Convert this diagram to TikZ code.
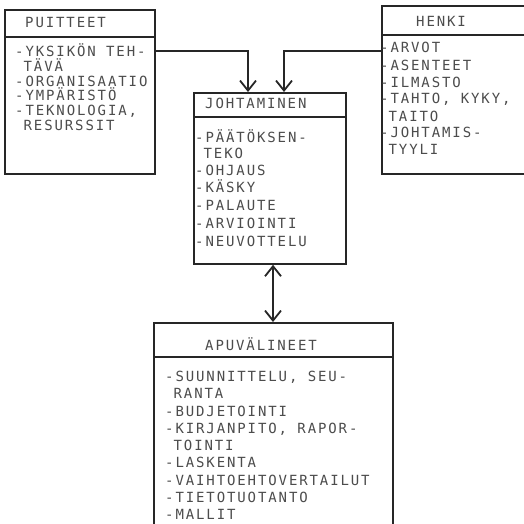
\documentclass[tikz,border=0pt]{standalone}
\usepackage{fontspec}
\usetikzlibrary{arrows.meta}
\newfontfamily\tw[LetterSpace=13.5]{DejaVu Sans Mono}
\tikzset{
  box/.style={draw=black!85, line width=1.8pt, anchor=north west, inner sep=0pt},
  divider/.style={draw=black!85, line width=1.8pt},
  ln/.style={anchor=base west, inner sep=0pt, text=black!70, font=\tw\fontsize{14}{16}\selectfont},
  tip/.style={Straight Barb[length=10pt,width=16pt,line width=1.8pt]},
  conn/.style={draw=black!85, line width=1.8pt, -{Straight Barb[length=10pt,width=16pt,line width=1.8pt]}},
  dconn/.style={draw=black!85, line width=1.8pt, {Straight Barb[length=10pt,width=16pt,line width=1.8pt]}-{Straight Barb[length=10pt,width=16pt,line width=1.8pt]}},
}
\begin{document}
\begin{tikzpicture}[x=1pt,y=-1pt]
\useasboundingbox (0,0) rectangle (524,523);
\clip (0,0) rectangle (524,523);
\fill[white] (0,0) rectangle (524,523);

% boxes
\node[box, minimum width=150pt, minimum height=164pt] (puit) at (4,9) {};
\node[box, minimum width=160pt, minimum height=168pt] (henki) at (381,5) {};
\node[box, minimum width=152pt, minimum height=171pt] (joht) at (193,92) {};
\node[box, minimum width=239pt, minimum height=230pt] (apu) at (153,322) {};

% dividers
\draw[divider] (puit.west |- 0,37) -- (puit.east |- 0,37);
\draw[divider] (henki.west |- 0,35) -- (henki.east |- 0,35);
\draw[divider] (joht.west |- 0,117) -- (joht.east |- 0,117);
\draw[divider] (apu.west |- 0,357) -- (apu.east |- 0,357);

% PUITTEET
\node[ln] (pt) at (25,27) {PUITTEET};
\node[ln] (p1) at (15,56) {-YKSIKÖN TEH-};
\node[ln] (p2) at (15,71) {\phantom{-}TÄVÄ};
\node[ln] (p3) at (15,86) {-ORGANISAATIO};
\node[ln] (p4) at (15,100) {-YMPÄRISTÖ};
\node[ln] (p5) at (15,115) {-TEKNOLOGIA,};
\node[ln] (p6) at (15,130) {\phantom{-}RESURSSIT};

% HENKI
\node[ln] (ht) at (416,26) {HENKI};
\node[ln] (h1) at (380,52) {-ARVOT};
\node[ln] (h2) at (380,70) {-ASENTEET};
\node[ln] (h3) at (380,87) {-ILMASTO};
\node[ln] (h4) at (380,103) {-TAHTO, KYKY,};
\node[ln] (h5) at (380,121) {\phantom{-}TAITO};
\node[ln] (h6) at (380,137) {-JOHTAMIS-};
\node[ln] (h7) at (380,154) {\phantom{-}TYYLI};

% JOHTAMINEN
\node[ln] (jt) at (205,108) {JOHTAMINEN};
\node[ln] (j1) at (195,142) {-PÄÄTÖKSEN-};
\node[ln] (j2) at (195,158) {\phantom{-}TEKO};
\node[ln] (j3) at (195,175) {-OHJAUS};
\node[ln] (j4) at (195,192) {-KÄSKY};
\node[ln] (j5) at (195,210) {-PALAUTE};
\node[ln] (j6) at (195,228) {-ARVIOINTI};
\node[ln] (j7) at (195,246) {-NEUVOTTELU};

% APUVÄLINEET
\node[ln] (at) at (205,350) {APUVÄLINEET};
\node[ln] (a1) at (165,381) {-SUUNNITTELU, SEU-};
\node[ln] (a2) at (165,398) {\phantom{-}RANTA};
\node[ln] (a3) at (165,416) {-BUDJETOINTI};
\node[ln] (a4) at (165,433) {-KIRJANPITO, RAPOR-};
\node[ln] (a5) at (165,450) {\phantom{-}TOINTI};
\node[ln] (a6) at (165,467) {-LASKENTA};
\node[ln] (a7) at (165,485) {-VAIHTOEHTOVERTAILUT};
\node[ln] (a8) at (165,502) {-TIETOTUOTANTO};
\node[ln] (a9) at (165,519) {-MALLIT};

% connectors
\coordinate (cl) at (248,51);
\coordinate (cr) at (284,51);
\coordinate (cm) at (273,0);
\draw[conn] (puit.east |- cl) -- (cl) -- (cl |- joht.north);
\draw[conn] (henki.west |- cr) -- (cr) -- (cr |- joht.north);
\draw[dconn] (cm |- joht.south) -- (cm |- apu.north);
\end{tikzpicture}
\end{document}
